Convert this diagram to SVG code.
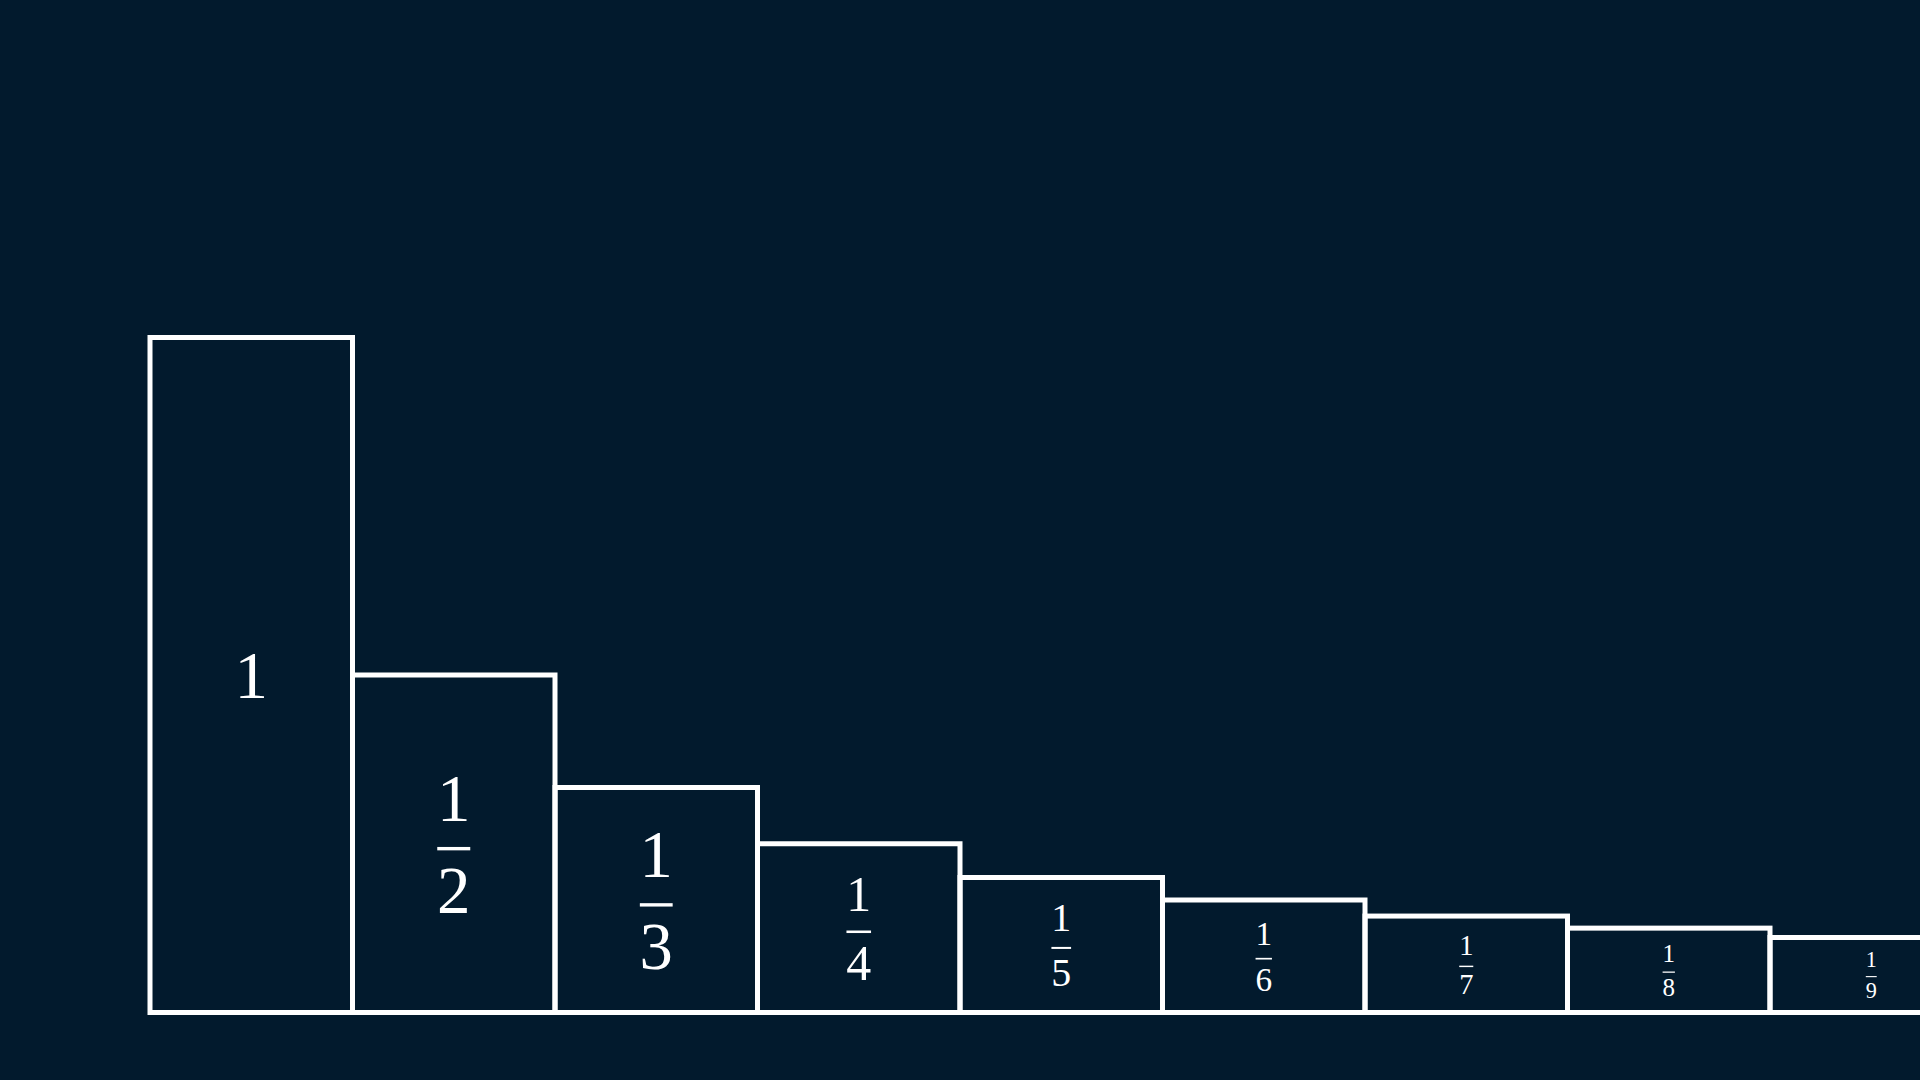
<svg xmlns="http://www.w3.org/2000/svg" width="1920" height="1080" viewBox="0 0 1920 1080">
<style>
.bar{fill:none;stroke:#ffffff;stroke-width:5}
.t{font-family:"Liberation Serif","Times New Roman",serif;font-size:67px;fill:#ffffff;text-anchor:middle}
.fl{fill:#ffffff}
</style>
<rect x="0" y="0" width="1920" height="1080" fill="#021a2d"/>
<g id="bar1">
<rect class="bar" x="150" y="337.5" width="202.5" height="675"/>
<text class="t" x="251.25" y="698">1</text>
</g>
<g id="bar2">
<rect class="bar" x="352.5" y="675" width="202.5" height="337.5"/>
<g transform="translate(453.75,843.75) scale(1)">
<text class="t" x="0" y="-22.75">1</text>
<rect class="fl" x="-16.5" y="3.2" width="33" height="3.4"/>
<text class="t" x="0" y="69.25">2</text>
</g>
</g>
<g id="bar3">
<rect class="bar" x="555" y="787.5" width="202.5" height="225"/>
<g transform="translate(656.25,900) scale(0.994)">
<text class="t" x="0" y="-22.75">1</text>
<rect class="fl" x="-16.5" y="3.2" width="33" height="3.4"/>
<text class="t" x="0" y="69.25">3</text>
</g>
</g>
<g id="bar4">
<rect class="bar" x="757.5" y="843.75" width="202.5" height="168.75"/>
<g transform="translate(858.75,928.125) scale(0.745)">
<text class="t" x="0" y="-22.75">1</text>
<rect class="fl" x="-16.5" y="3.2" width="33" height="3.4"/>
<text class="t" x="0" y="69.25">4</text>
</g>
</g>
<g id="bar5">
<rect class="bar" x="960" y="877.5" width="202.5" height="135"/>
<g transform="translate(1061.25,945) scale(0.596)">
<text class="t" x="0" y="-22.75">1</text>
<rect class="fl" x="-16.5" y="3.2" width="33" height="3.4"/>
<text class="t" x="0" y="69.25">5</text>
</g>
</g>
<g id="bar6">
<rect class="bar" x="1162.5" y="900" width="202.5" height="112.5"/>
<g transform="translate(1263.75,956.25) scale(0.497)">
<text class="t" x="0" y="-22.75">1</text>
<rect class="fl" x="-16.5" y="3.2" width="33" height="3.4"/>
<text class="t" x="0" y="69.25">6</text>
</g>
</g>
<g id="bar7">
<rect class="bar" x="1365" y="916.07" width="202.5" height="96.43"/>
<g transform="translate(1466.25,964.29) scale(0.426)">
<text class="t" x="0" y="-22.75">1</text>
<rect class="fl" x="-16.5" y="3.2" width="33" height="3.4"/>
<text class="t" x="0" y="69.25">7</text>
</g>
</g>
<g id="bar8">
<rect class="bar" x="1567.5" y="928.13" width="202.5" height="84.37"/>
<g transform="translate(1668.75,970.31) scale(0.373)">
<text class="t" x="0" y="-22.75">1</text>
<rect class="fl" x="-16.5" y="3.2" width="33" height="3.4"/>
<text class="t" x="0" y="69.25">8</text>
</g>
</g>
<g id="bar9">
<rect class="bar" x="1770" y="937.5" width="202.5" height="75"/>
<g transform="translate(1871.25,975) scale(0.331)">
<text class="t" x="0" y="-22.75">1</text>
<rect class="fl" x="-16.5" y="3.2" width="33" height="3.4"/>
<text class="t" x="0" y="69.25">9</text>
</g>
</g>
<g id="connectors"></g>
</svg>
